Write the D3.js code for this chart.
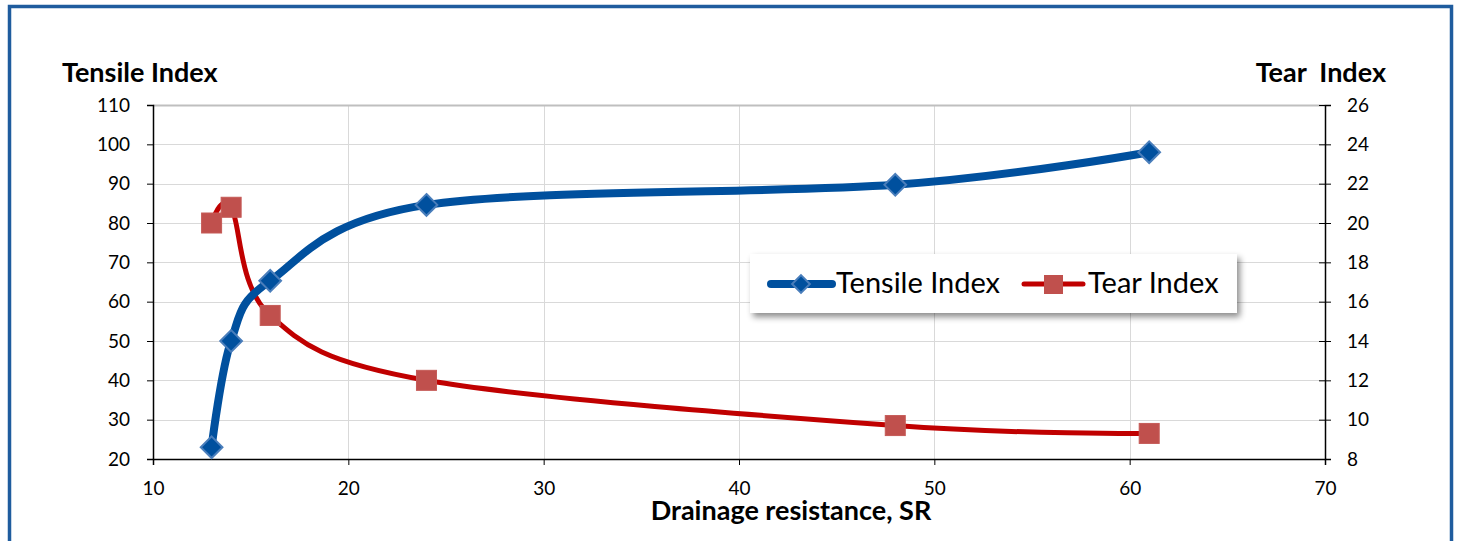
<!doctype html>
<html lang="en">
<head>
<meta charset="UTF-8"/>
<title>Tensile and Tear Index</title>
<script src="https://d3js.org/d3.v7.min.js"></script>
<style>
  body { margin: 0; background: #fff; }
  svg text { font-family: Lato, "Open Sans", sans-serif; fill: #000; }
</style>
</head>
<body>
<svg id="chart" width="1460" height="541"></svg>
<script>
// data
const drainage = [13, 14, 16, 24, 48, 61];
const tensileIndex = [23, 50, 65.3, 84.6, 89.7, 98];
const tearIndex = [20.0, 20.8, 15.3, 12.0, 9.7, 9.3];
const xTicks = [10, 20, 30, 40, 50, 60, 70];
const leftTicks = [20, 30, 40, 50, 60, 70, 80, 90, 100, 110];
const rightTicks = [8, 10, 12, 14, 16, 18, 20, 22, 24, 26];

const blue = "#00509e", blueEdge = "#4a7ebb";
const red = "#c00000", redMark = "#c0504d";

const svg = d3.select("#chart");
const plot = {left: 153, right: 1325, top: 105, bottom: 459};

// outer frame
svg.append("rect").attr("x", 9.5).attr("y", 6.5).attr("width", 1442).attr("height", 560)
  .attr("fill", "none").attr("stroke", "#1f5c9e").attr("stroke-width", 3.5);

const x = d3.scaleLinear().domain([10, 70]).range([plot.left, plot.right]);
const yL = d3.scaleLinear().domain([20, 110]).range([plot.bottom, plot.top]);
const yR = d3.scaleLinear().domain([8, 26]).range([plot.bottom, plot.top]);

// grid
const grid = svg.append("g").attr("stroke", "#d9d9d9").attr("stroke-width", 1);
grid.selectAll(".gv").data(xTicks.slice(1)).enter().append("line")
  .attr("x1", d => Math.round(x(d)) + 0.5).attr("x2", d => Math.round(x(d)) + 0.5)
  .attr("y1", plot.top).attr("y2", plot.bottom);
grid.selectAll(".gh").data(leftTicks.slice(1)).enter().append("line")
  .attr("x1", plot.left).attr("x2", plot.right)
  .attr("y1", d => Math.round(yL(d)) + 0.5).attr("y2", d => Math.round(yL(d)) + 0.5);
svg.append("line").attr("x1", plot.left).attr("x2", plot.right)
  .attr("y1", plot.top + 0.5).attr("y2", plot.top + 0.5)
  .attr("stroke", "#bfbfbf").attr("stroke-width", 2);

// axes
const axisLeft = svg.append("g").attr("transform", `translate(${plot.left},0)`)
  .call(d3.axisLeft(yL).tickValues(leftTicks).tickSize(6).tickPadding(17));
const axisRight = svg.append("g").attr("transform", `translate(${plot.right},0)`)
  .call(d3.axisRight(yR).tickValues(rightTicks).tickSize(6).tickPadding(16));
axisRight.selectAll(".tick line").attr("x1", -6);
const axisBottom = svg.append("g").attr("transform", `translate(0,${plot.bottom})`)
  .call(d3.axisBottom(x).tickValues(xTicks).tickSize(6).tickPadding(17));
[axisLeft, axisRight, axisBottom].forEach(a => {
  a.select(".domain").attr("stroke", "#000").attr("stroke-width", 1.5);
  a.selectAll(".tick line").attr("stroke", "#000");
  a.selectAll(".tick text").style("font-size", "19px");
});

// lines
const pts = (ys, scale) => drainage.map((d, i) => [x(d), scale(ys[i])]);
const smooth = d3.line().curve(d3.curveCardinal.tension(0));
svg.append("path").attr("d", smooth(pts(tearIndex, yR)))
  .attr("fill", "none").attr("stroke", red).attr("stroke-width", 5);
svg.append("path").attr("d", smooth(pts(tensileIndex, yL)))
  .attr("fill", "none").attr("stroke", blue).attr("stroke-width", 8);

const diamond = d3.symbol().type(d3.symbolDiamond2).size(300);
svg.append("g").selectAll("path").data(pts(tensileIndex, yL)).enter().append("path")
  .attr("d", diamond).attr("transform", d => `translate(${d[0]},${d[1]})`)
  .attr("fill", blue).attr("stroke", blueEdge).attr("stroke-width", 2);
svg.append("g").selectAll("rect").data(pts(tearIndex, yR)).enter().append("rect")
  .attr("x", d => d[0] - 10).attr("y", d => d[1] - 10).attr("width", 20).attr("height", 20)
  .attr("fill", redMark).attr("stroke", "#c55a57").attr("stroke-width", 1);

// titles
svg.append("text").attr("x", 62).attr("y", 82).style("font-size", "27px")
  .style("font-weight", "bold").text("Tensile Index");
svg.append("text").attr("x", 1386).attr("y", 82).attr("text-anchor", "end")
  .style("font-size", "27px").style("font-weight", "bold").attr("xml:space", "preserve")
  .text("Tear  Index");
svg.append("text").attr("x", 791).attr("y", 520).attr("text-anchor", "middle")
  .style("font-size", "27px").style("font-weight", "bold").text("Drainage resistance, SR");

// legend
const defs = svg.append("defs");
const f = defs.append("filter").attr("id", "shadow").attr("x", "-10%").attr("y", "-30%")
  .attr("width", "130%").attr("height", "180%");
f.append("feDropShadow").attr("dx", 3).attr("dy", 4).attr("stdDeviation", 3)
  .attr("flood-color", "#000").attr("flood-opacity", 0.45);
const lg = svg.append("g").attr("transform", "translate(750,254)");
lg.append("rect").attr("width", 487).attr("height", 59).attr("fill", "#fff")
  .attr("filter", "url(#shadow)");
lg.append("line").attr("x1", 21).attr("x2", 82).attr("y1", 30).attr("y2", 30)
  .attr("stroke", blue).attr("stroke-width", 8).attr("stroke-linecap", "round");
lg.append("path").attr("d", d3.symbol().type(d3.symbolDiamond2).size(200)())
  .attr("transform", "translate(51,30)").attr("fill", blue).attr("stroke", blueEdge).attr("stroke-width", 2);
lg.append("text").attr("x", 86).attr("y", 39).style("font-size", "29px").text("Tensile Index");
lg.append("line").attr("x1", 274).attr("x2", 333).attr("y1", 30).attr("y2", 30)
  .attr("stroke", red).attr("stroke-width", 5).attr("stroke-linecap", "round");
lg.append("rect").attr("x", 294).attr("y", 21).attr("width", 19).attr("height", 19).attr("fill", redMark);
lg.append("text").attr("x", 338).attr("y", 39).style("font-size", "29px").text("Tear Index");
</script>
</body>
</html>
